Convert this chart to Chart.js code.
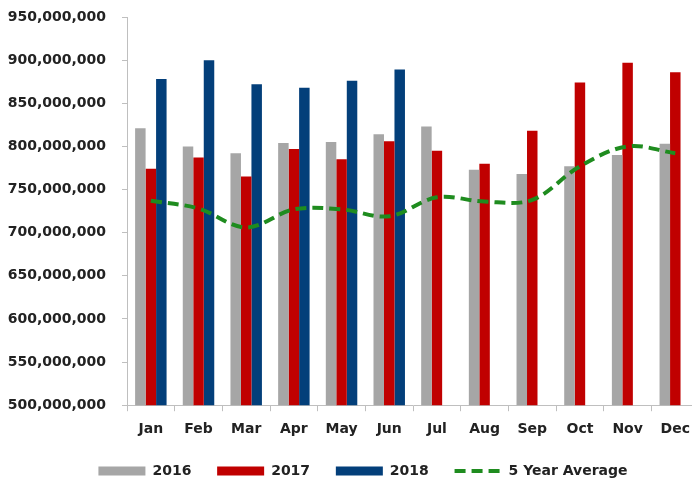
<!DOCTYPE html>
<html>
<head>
<meta charset="utf-8">
<script src="https://cdn.jsdelivr.net/npm/chart.js@4/dist/chart.umd.min.js"></script>
<style>
  html, body { margin: 0; padding: 0; background: #fff; overflow: hidden; }
  #wrap { width: 700px; height: 488px; }
</style>
</head>
<body>
<div id="wrap"><canvas id="myChart"></canvas></div>
<script>
const months = ["Jan", "Feb", "Mar", "Apr", "May", "Jun", "Jul", "Aug", "Sep", "Oct", "Nov", "Dec"];
const y2016 = [821e6, 800e6, 792e6, 804e6, 805e6, 814e6, 823e6, 773e6, 768e6, 777e6, 790e6, 803e6];
const y2017 = [774e6, 787e6, 765e6, 797e6, 785e6, 806e6, 795e6, 780e6, 818e6, 874e6, 897e6, 886e6];
const y2018 = [878e6, 900e6, 872e6, 868e6, 876e6, 889e6, null, null, null, null, null, null];
const fiveYearAvg = [737e6, 728e6, 706e6, 727e6, 727e6, 719e6, 741e6, 736e6, 738e6, 777e6, 800e6, 792e6];

const fontFamily = "'DejaVu Sans', sans-serif";
const textColor = '#222222';
const axisColor = '#bfbfbf';

// nudge the legend row a little to the right, as in the original
const legendShift = {
  id: 'legendShift',
  afterLayout(chart) {
    chart.legend.left += 13;
    chart.legend.right += 13;
  }
};

const config = {
  type: 'bar',
  data: {
    labels: months,
    datasets: [
      { label: '2016', data: y2016, backgroundColor: '#a6a6a6', order: 2 },
      { label: '2017', data: y2017, backgroundColor: '#c00000', order: 2 },
      { label: '2018', data: y2018, backgroundColor: '#033f7a', order: 2 },
      {
        type: 'line',
        label: '5 Year Average',
        data: fiveYearAvg,
        borderColor: '#1f8c1f',
        backgroundColor: '#1f8c1f',
        borderWidth: 4,
        borderDash: [11, 6],
        pointRadius: 0,
        tension: 0.35,
        fill: false,
        order: 1
      }
    ]
  },
  options: {
    responsive: true,
    maintainAspectRatio: false,
    animation: false,
    datasets: {
      bar: { categoryPercentage: 0.66, barPercentage: 1.0 }
    },
    layout: { padding: { top: 17, left: 0, right: 0, bottom: 0 } },
    plugins: {
      tooltip: { enabled: false },
      legend: {
        position: 'bottom',
        labels: {
          color: textColor,
          font: { family: fontFamily, size: 14, weight: 'bold' },
          padding: 16,
          usePointStyle: true,
          pointStyleWidth: 47,
          boxHeight: 9,
          sort: (a, b) => a.datasetIndex - b.datasetIndex,
          generateLabels: function (chart) {
            const items = Chart.defaults.plugins.legend.labels.generateLabels(chart);
            items.forEach(function (it) {
              const ds = chart.data.datasets[it.datasetIndex];
              // trailing spaces widen the gap to the next item
              if (it.datasetIndex < 3) it.text = ds.label + '  ';
              if (ds.type === 'line') {
                it.pointStyle = 'line';
                it.strokeStyle = ds.borderColor;
                it.lineWidth = 4;
                it.lineDash = [11, 6];
              } else {
                it.pointStyle = 'rect';
                it.lineWidth = 0;
                it.fillStyle = ds.backgroundColor;
              }
            });
            return items;
          }
        }
      }
    },
    scales: {
      x: {
        grid: { drawOnChartArea: false, drawTicks: true, tickLength: 6, color: axisColor },
        border: { display: true, color: axisColor, width: 1 },
        ticks: {
          color: textColor,
          padding: 10,
          font: { family: fontFamily, size: 14, weight: 'bold' },
          maxRotation: 0
        }
      },
      y: {
        min: 500e6,
        max: 950e6,
        afterFit: function (scale) {
          scale.width = 127;
          scale.paddingTop = 0;
        },
        grid: { drawOnChartArea: false, drawTicks: true, tickLength: 5, color: axisColor },
        border: { display: true, color: axisColor, width: 1 },
        ticks: {
          stepSize: 50e6,
          color: textColor,
          padding: 16,
          font: { family: fontFamily, size: 14, weight: 'bold' },
          callback: function (v) { return v.toLocaleString('en-US'); }
        }
      }
    }
  },
  plugins: [legendShift]
};

const myChart = new Chart(document.getElementById('myChart'), config);
</script>
</body>
</html>
